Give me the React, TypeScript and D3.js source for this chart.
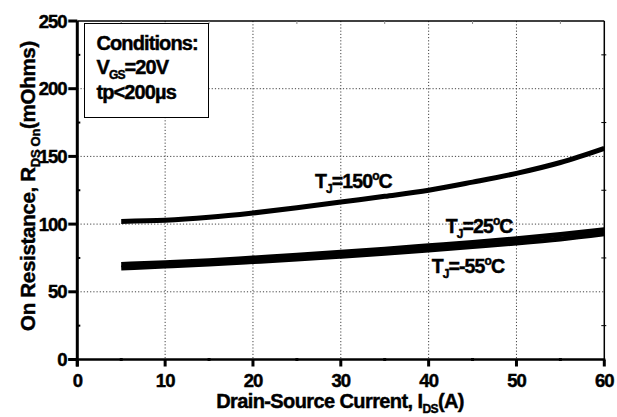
import React from "react";
import * as d3 from "d3";

// Drain current (A) sampled along each curve
const currentA = [5, 10, 15, 20, 25, 30, 35, 40, 45, 50, 55, 60];
// On-resistance (mOhm) per junction temperature
const r150 = [102, 102.8, 105, 108.2, 112, 116.3, 120.5, 125, 131, 137.5, 145.5, 156];
const r25 = [70.2, 71.5, 73, 75, 77, 79.2, 81.5, 84, 86.5, 89.2, 92.3, 95.8];
const rMinus55 = [67.6, 69, 70.5, 72.3, 74.2, 76.3, 78.5, 80.9, 83.4, 86, 89, 92.8];

const xTicks = [0, 10, 20, 30, 40, 50, 60];
const xMinor = [5, 15, 25, 35, 45, 55];
const yTicks = [0, 50, 100, 150, 200, 250];
const yMinor = [25, 75, 125, 175, 225];

const W = 617;
const H = 417;
const left = 77.3;
const right = 604.3;
const top = 21;
const bottom = 359.5;
const FONT = "'Liberation Sans', Arial, Helvetica, sans-serif";

// heavy text look: bold plus a thin outline
const heavy = { stroke: "#000", strokeWidth: 0.45 };

function TempLabel({ x, y, t }: { x: number; y: number; t: string }) {
  return (
    <text x={x} y={y} fontSize={19.5} letterSpacing={-0.9} {...heavy}>
      T<tspan fontSize={12} dy={5}>J</tspan>
      <tspan dy={-5}>={t}</tspan>
      <tspan fontSize={12} dy={-8}>o</tspan>
      <tspan dy={8}>C</tspan>
    </text>
  );
}

export default function App() {
  const x = d3.scaleLinear().domain([0, 60]).range([left, right]);
  const y = d3.scaleLinear().domain([0, 250]).range([bottom, top]);

  const line = (vals: number[]) =>
    d3
      .line<number>()
      .x((_, i) => x(currentA[i]))
      .y((v) => y(v))
      .curve(d3.curveMonotoneX)(vals) as string;

  const series = [r150, r25, rMinus55];

  return (
    <svg
      width={W}
      height={H}
      style={{ position: "absolute", left: 0, top: 0, background: "#fff" }}
      fontFamily={FONT}
      fontWeight="bold"
    >
      <rect x={0} y={0} width={W} height={H} fill="#fff" />

      {/* dotted grid */}
      {xTicks
        .filter((t) => t > 0 && t < 60)
        .map((t) => (
          <line
            key={"gx" + t}
            x1={x(t)}
            x2={x(t)}
            y1={top}
            y2={bottom}
            stroke="#444"
            strokeWidth={1}
            strokeDasharray="1.2,2"
          />
        ))}
      {yTicks
        .filter((t) => t > 0 && t < 250)
        .map((t) => (
          <line
            key={"gy" + t}
            x1={left}
            x2={right}
            y1={y(t)}
            y2={y(t)}
            stroke="#444"
            strokeWidth={1}
            strokeDasharray="1.2,2"
          />
        ))}

      {/* frame: top and right */}
      <line x1={left} x2={right} y1={top} y2={top} stroke="#000" strokeWidth={1.5} />
      <line x1={right} x2={right} y1={top} y2={bottom} stroke="#000" strokeWidth={1.5} />
      {yMinor.map((t) => (
        <line key={"rm" + t} x1={right - 3} x2={right + 2} y1={y(t)} y2={y(t)} stroke="#000" strokeWidth={1} />
      ))}
      {xMinor.map((t) => (
        <line key={"tm" + t} x1={x(t)} x2={x(t)} y1={top} y2={top + 3} stroke="#888" strokeWidth={1} />
      ))}

      {/* curves */}
      {series.map((s, i) => (
        <path key={"c" + i} d={line(s)} fill="none" stroke="#000" strokeWidth={5} strokeLinecap="butt" />
      ))}

      {/* axes */}
      <line x1={left} x2={left} y1={top} y2={bottom + 7} stroke="#000" strokeWidth={3} />
      <line x1={left - 9} x2={right + 1} y1={bottom} y2={bottom} stroke="#000" strokeWidth={2.5} />
      {yTicks.map((t) => (
        <g key={"yt" + t}>
          <line x1={left - 9} x2={left} y1={y(t)} y2={y(t)} stroke="#000" strokeWidth={3} />
          <text x={66.5} y={y(t)} dy="0.36em" textAnchor="end" fontSize={18.5} letterSpacing={-1} {...heavy}>
            {t}
          </text>
        </g>
      ))}
      {yMinor.map((t) => (
        <line key={"ym" + t} x1={left} x2={left + 3} y1={y(t)} y2={y(t)} stroke="#000" strokeWidth={2} />
      ))}
      {xTicks.map((t) => (
        <g key={"xt" + t}>
          <line x1={x(t)} x2={x(t)} y1={bottom} y2={bottom + 7} stroke="#000" strokeWidth={3} />
          <text x={x(t)} y={387} textAnchor="middle" fontSize={18.5} letterSpacing={-1} {...heavy}>
            {t}
          </text>
        </g>
      ))}
      {xMinor.map((t) => (
        <line key={"xm" + t} x1={x(t)} x2={x(t)} y1={bottom - 1.5} y2={bottom + 1.5} stroke="#000" strokeWidth={3} />
      ))}

      {/* axis titles */}
      <text x={340} y={407.5} textAnchor="middle" fontSize={20} letterSpacing={-0.6} {...heavy}>
        Drain-Source Current, I
        <tspan fontSize={12} dy={5}>DS</tspan>
        <tspan dy={-5}>(A)</tspan>
      </text>
      <text
        transform="translate(35,186) rotate(-90)"
        textAnchor="middle"
        fontSize={20.5}
        letterSpacing={-0.3}
        {...heavy}
      >
        On Resistance, R
        <tspan fontSize={13} dy={5}>DS On</tspan>
        <tspan dy={-5}>(mOhms)</tspan>
      </text>

      {/* conditions box */}
      <rect x={84.5} y={23.5} width={124} height={94} fill="#fff" stroke="#000" strokeWidth={1} />
      <text x={96.5} y={50} fontSize={20} letterSpacing={-0.9} {...heavy}>
        Conditions:
      </text>
      <text x={96.5} y={73.5} fontSize={20} letterSpacing={-0.9} {...heavy}>
        V<tspan fontSize={12} dy={5}>GS</tspan>
        <tspan dy={-5}>=20V</tspan>
      </text>
      <text x={96.5} y={99} fontSize={20} letterSpacing={-0.9} {...heavy}>
        tp&lt;200µs
      </text>

      {/* curve labels */}
      <TempLabel x={315} y={188.3} t="150" />
      <TempLabel x={445.7} y={233.3} t="25" />
      <TempLabel x={431.7} y={273.3} t="-55" />
    </svg>
  );
}
